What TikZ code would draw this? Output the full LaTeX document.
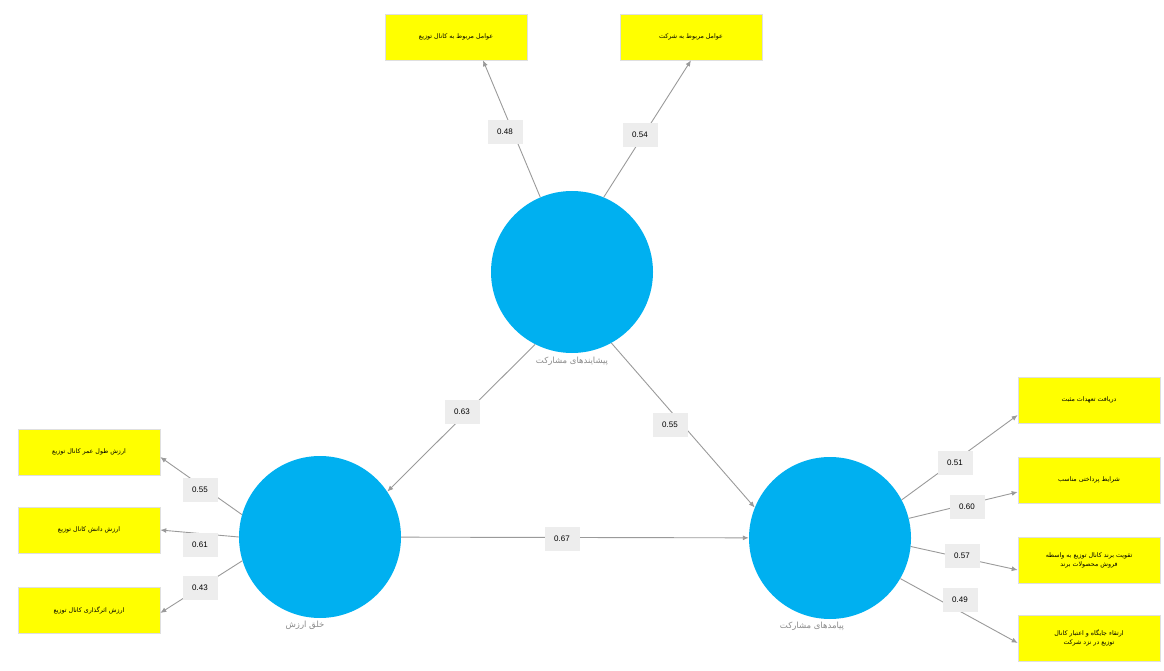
\documentclass[tikz,border=0pt]{standalone}
\usepackage{fontspec}
\setmainfont{Liberation Sans}
\newfontfamily\arabicfont[Script=Arabic]{DejaVu Sans}
\TeXXeTstate=1
\newcommand{\pers}[1]{{\arabicfont\beginR #1\endR}}
\usepackage{tikz}
\usetikzlibrary{arrows.meta,positioning}
\definecolor{lvblue}{HTML}{00B0F0}
\definecolor{indyellow}{HTML}{FFFF00}
\definecolor{wtgray}{HTML}{EDEDED}
\definecolor{arrgray}{HTML}{9A9A9A}
\definecolor{labgray}{HTML}{8A8A8A}

\begin{document}
\begin{tikzpicture}[x=1pt,y=-1pt,
    latent/.style={circle,fill=lvblue,minimum size=162pt,inner sep=0pt},
    lvlab/.style={text=labgray,font=\fontsize{8.5}{10}\selectfont,inner sep=1pt},
    indic/.style={rectangle,fill=indyellow,draw=gray!25,line width=0.6pt,
      minimum width=142pt,minimum height=46pt,align=center,
      font=\fontsize{6.3}{9}\selectfont},
    wt/.style={rectangle,fill=wtgray,minimum width=35pt,minimum height=24pt,
      inner sep=1pt,font=\fontsize{8}{9}\selectfont},
    arr/.style={draw=arrgray,line width=0.9pt,-{Latex[length=6pt,width=5pt]}}]
  \useasboundingbox (0,0) rectangle (1164,671);
  %%% the three latent variables
  \node[latent] (ante) at (572,272) {};
  \node[latent] (value) at (320,537) {};
  \node[latent] (conseq) at (830,538) {};
  \node[lvlab,below=3pt of ante] (antelab) {\pers{پیشایندهای مشارکت}};
  \node[lvlab,below=2pt of value,xshift=-15pt] (valuelab) {\pers{خلق ارزش}};
  \node[lvlab,below=2pt of conseq,xshift=-18pt] (conseqlab) {\pers{پیامدهای مشارکت}};
  %%% indicators
  % top
  \node[indic] (t1) at (456,37) {\pers{عوامل مربوط به کانال توزیع}};
  \node[indic] (t2) at (691,37) {\pers{عوامل مربوط به شرکت}};
  % left
  \node[indic] (l1) at (89,452) {\pers{ارزش طول عمر کانال توزیع}};
  \node[indic] (l2) at (89,530) {\pers{ارزش دانش کانال توزیع}};
  \node[indic] (l3) at (89,610) {\pers{ارزش اثرگذاری کانال توزیع}};
  % right
  \node[indic] (r1) at (1089,400) {\pers{دریافت تعهدات مثبت}};
  \node[indic] (r2) at (1089,480) {\pers{شرایط پرداختی مناسب}};
  \node[indic] (r3) at (1089,560) {\pers{تقویت برند کانال توزیع به واسطه}\\\pers{فروش محصولات برند}};
  \node[indic] (r4) at (1089,638) {\pers{ارتقاء جایگاه و اعتبار کانال}\\\pers{توزیع در نزد شرکت}};
  %%% paths
  \draw[arr] (ante.113) -- ([xshift=27pt]t1.south);
  \draw[arr] (ante.67) -- (t2.south);
  \draw[arr] (ante.243) -- (value.34);
  \draw[arr] (ante.299) -- (conseq.158);
  \draw[arr] (value) -- (conseq);
  %% outer model
  \draw[arr] (value.164) -- ([yshift=-5pt]l1.east);
  \draw[arr] (value.180) -- (l2.east);
  \draw[arr] (value.197) -- ([yshift=-3pt]l3.east);
  \draw[arr] (conseq.28) -- ([yshift=-15pt]r1.west);
  \draw[arr] (conseq.14) -- ([yshift=-12pt]r2.west);
  \draw[arr] (conseq.354) -- ([yshift=-10pt]r3.west);
  \draw[arr] (conseq.330) -- ([yshift=-5pt]r4.west);
  %%% coefficients
  \foreach \x/\y/\v [count=\i] in {505/132/0.48, 640/135/0.54, 462/412/0.63,
      670/425/0.55, 562/539/0.67, 200/490/0.55, 200/545/0.61, 200/588/0.43,
      955/463/0.51, 967/507/0.60, 962/556/0.57, 960/600/0.49}
  {
    \node[wt] (w\i) at (\x,\y) {\v};
  }
\end{tikzpicture}
\end{document}
